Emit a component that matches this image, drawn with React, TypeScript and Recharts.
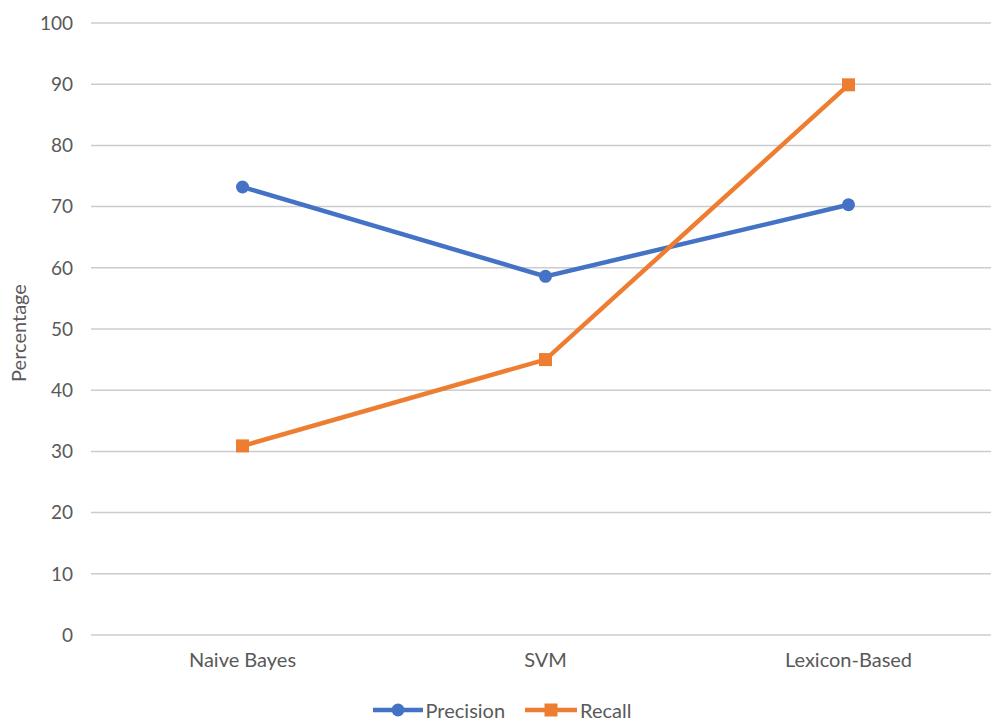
import { LineChart, Line, XAxis, YAxis, CartesianGrid, Legend } from "recharts";

const categories = ["Naive Bayes", "SVM", "Lexicon-Based"];
const precision = [73.2, 58.6, 70.3];
const recall = [30.9, 45.0, 89.9];
const yTicks = [0, 10, 20, 30, 40, 50, 60, 70, 80, 90, 100];

const BLUE = "#4472C4";
const ORANGE = "#ED7D31";
const TEXT = "#595959";
const FONT = "Lato, 'Open Sans', sans-serif";

const data = categories.map((name, i) => ({
  name,
  precision: precision[i],
  recall: recall[i],
}));

// eslint-disable-next-line @typescript-eslint/no-explicit-any
const SquareDot = (props: any) => {
  const { cx, cy } = props;
  if (cx == null || cy == null) return null;
  return <rect x={cx - 6.5} y={cy - 6.5} width={13} height={13} fill={ORANGE} />;
};

// eslint-disable-next-line @typescript-eslint/no-explicit-any
const YLabel = (props: any) => {
  const { viewBox } = props;
  const cy = viewBox.y + viewBox.height / 2 + 4;
  return (
    <text
      x={18}
      y={cy}
      transform={`rotate(-90 18 ${cy})`}
      textAnchor="middle"
      dominantBaseline="central"
      fill={TEXT}
      fontSize={20}
      fontFamily={FONT}
    >
      Percentage
    </text>
  );
};

const LegendContent = () => (
  <div
    style={{
      display: "flex",
      justifyContent: "center",
      alignItems: "center",
      gap: 20,
      fontFamily: FONT,
      fontSize: 20,
      color: TEXT,
      height: 24,
      paddingLeft: 4,
    }}
  >
    <span style={{ display: "flex", alignItems: "center" }}>
      <svg width={50} height={14}>
        <line x1={0} y1={7} x2={50} y2={7} stroke={BLUE} strokeWidth={4.5} />
        <circle cx={25} cy={7} r={6.5} fill={BLUE} />
      </svg>
      <span style={{ marginLeft: 3 }}>Precision</span>
    </span>
    <span style={{ display: "flex", alignItems: "center" }}>
      <svg width={52} height={14}>
        <line x1={0} y1={7} x2={52} y2={7} stroke={ORANGE} strokeWidth={4.5} />
        <rect x={19.5} y={0.5} width={13} height={13} fill={ORANGE} />
      </svg>
      <span style={{ marginLeft: 3 }}>Recall</span>
    </span>
  </div>
);

export default function App() {
  return (
    <div
      style={{
        position: "absolute",
        left: 0,
        top: 0,
        width: 991,
        height: 722,
        overflow: "hidden",
        background: "#fff",
      }}
    >
      <LineChart
        width={1000}
        height={722}
        data={data}
        margin={{ top: 23, right: 0, left: 0, bottom: 0 }}
      >
        <CartesianGrid horizontal vertical={false} stroke="#cccccc" strokeWidth={1.5} />
        <XAxis
          dataKey="name"
          axisLine={false}
          tickLine={false}
          tickSize={0}
          tickMargin={18}
          height={63}
          padding={{ left: 151.5, right: 151.5 }}
          tick={{ fill: TEXT, fontSize: 20, fontFamily: FONT }}
        />
        <YAxis
          domain={[0, 100]}
          ticks={yTicks}
          axisLine={false}
          tickLine={false}
          tickSize={0}
          tickMargin={18}
          width={91}
          tick={{ fill: TEXT, fontSize: 19, fontFamily: FONT }}
          label={<YLabel />}
        />
        <Legend verticalAlign="bottom" height={24} content={<LegendContent />} />
        <Line
          type="linear"
          dataKey="precision"
          name="Precision"
          stroke={BLUE}
          strokeWidth={4.5}
          dot={{ r: 6.5, fill: BLUE, stroke: "none" }}
          activeDot={false}
          isAnimationActive={false}
        />
        <Line
          type="linear"
          dataKey="recall"
          name="Recall"
          stroke={ORANGE}
          strokeWidth={4.5}
          dot={<SquareDot />}
          activeDot={false}
          isAnimationActive={false}
        />
      </LineChart>
    </div>
  );
}
